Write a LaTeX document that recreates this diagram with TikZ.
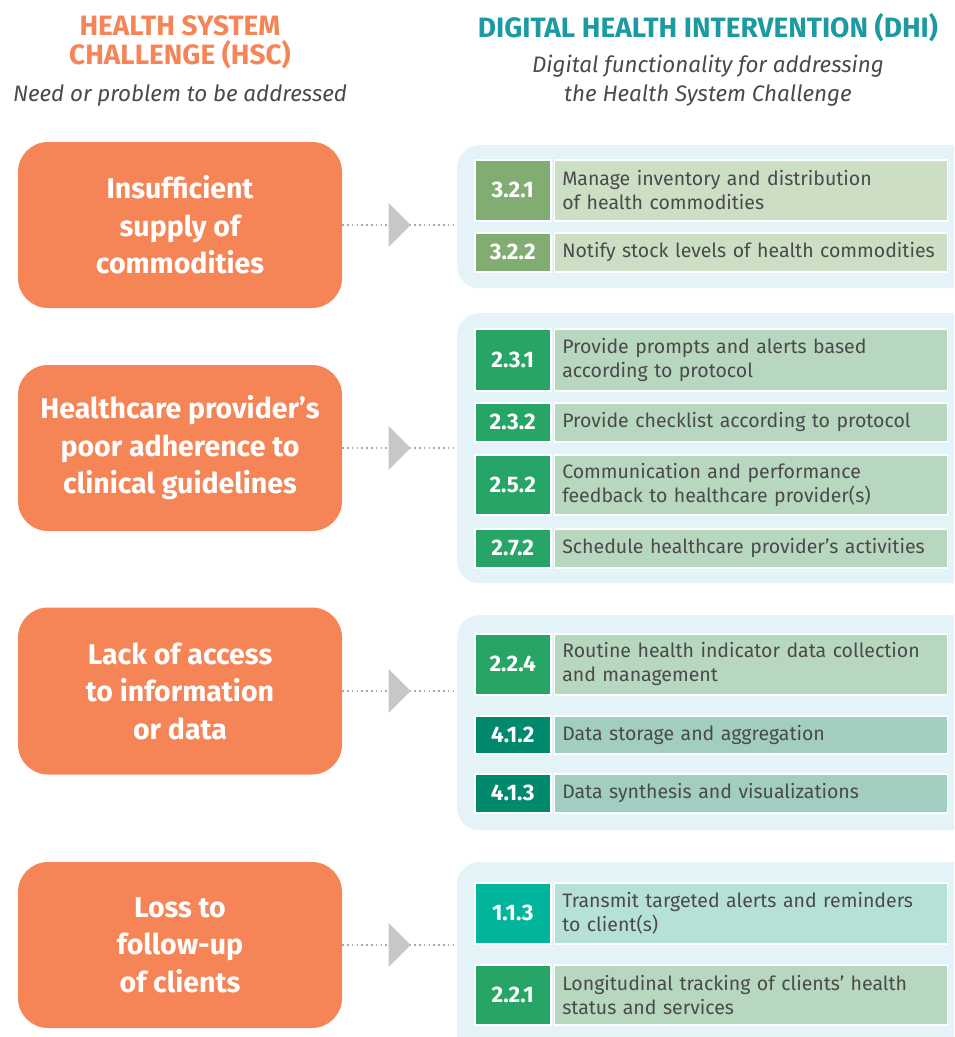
\documentclass[tikz,border=0pt]{standalone}
\usepackage{fontspec}
\setsansfont{Fira Sans}
\usetikzlibrary{positioning,calc}
\definecolor{HscOrange} {HTML}{F58557}
\definecolor{DhiTeal}   {HTML}{1B9BA1}
\definecolor{TextGray}  {HTML}{4A4A4C}
\definecolor{ArrowGray} {HTML}{C6C7C9}
\definecolor{PanelBg}   {HTML}{E3F3F7}
\definecolor{OliveNum}  {HTML}{82AD72}
\definecolor{OliveBg}   {HTML}{CCDFC5}
\definecolor{GreenNum}  {HTML}{27A566}
\definecolor{GreenBg}   {HTML}{B8D7BF}
\definecolor{DeepNum}   {HTML}{00896D}
\definecolor{DeepBg}    {HTML}{A1CEC1}
\definecolor{AquaNum}   {HTML}{00B59B}
\definecolor{AquaBg}    {HTML}{B6E1D9}

\begin{document}
\begin{tikzpicture}[x=1pt,y=-1pt,
  hscbox/.style={fill=HscOrange,rounded corners=30pt,minimum width=324pt,
    minimum height=166pt,align=center,text=white,
    font=\sffamily\bfseries\fontsize{28.5}{37.5}\selectfont},
  panel/.style={fill=PanelBg,rounded corners=22pt,anchor=north west,
    minimum width=520pt},
  numcell/.style={draw=white,line width=1.5pt,anchor=north west,
    minimum width=76pt,text=white,
    font=\sffamily\bfseries\fontsize{22.5}{24}\selectfont},
  txtcell/.style={draw=white,line width=1.5pt,text width=377pt,
    inner xsep=8pt,align=left,text=TextGray,
    font=\sffamily\fontsize{19.5}{24}\selectfont},
  headline/.style={align=center,
    font=\sffamily\bfseries\fontsize{28}{29}\selectfont},
  subhead/.style={align=center,text=TextGray,
    font=\sffamily\itshape\fontsize{22.4}{29}\selectfont},
  dotline/.style={ArrowGray!85!black,line width=1.6pt,
    dash pattern=on 1.6pt off 3.2pt},
  tri/.style={fill=ArrowGray}]
  \clip (0,0) rectangle (954,1037);
  \useasboundingbox (0,0) rectangle (954,1037);

  % column headings
  \node[headline,text=HscOrange] (hschd) at (180,42)
    {HEALTH SYSTEM\\CHALLENGE (HSC)};
  \node[subhead] (hscsub) at (180,96) {Need or problem to be addressed};
  \node[headline,text=DhiTeal] (dhihd) at (708,28)
    {DIGITAL HEALTH INTERVENTION (DHI)};
  \node[subhead] (dhisub) at (708,81)
    {Digital functionality for addressing\\the Health System Challenge};

  % panels behind the DHI rows
  \node[panel,minimum height=143pt] (pan1) at (457,145) {};
  \node[panel,minimum height=270pt] (pan2) at (457,313) {};
  \node[panel,minimum height=215pt] (pan3) at (457,615) {};
  \node[panel,minimum height=200pt] (pan4) at (457,862) {};

  % group 1
  \node[numcell,fill=OliveNum,minimum height=61pt] (n321) at (474,159) {3.2.1};
  \node[txtcell,fill=OliveBg,minimum height=61pt,right=2pt of n321] (t321)
    {Manage inventory and distribution\\of health commodities};
  \node[numcell,fill=OliveNum,minimum height=39pt] (n322) at (474,232) {3.2.2};
  \node[txtcell,fill=OliveBg,minimum height=39pt,right=2pt of n322] (t322)
    {Notify stock levels of health commodities};

  % group 2
  \node[numcell,fill=GreenNum,minimum height=62pt] (n231) at (474,328) {2.3.1};
  \node[txtcell,fill=GreenBg,minimum height=62pt,right=2pt of n231] (t231)
    {Provide prompts and alerts based\\according to protocol};
  \node[numcell,fill=GreenNum,minimum height=39pt] (n232) at (474,402) {2.3.2};
  \node[txtcell,fill=GreenBg,minimum height=39pt,right=2pt of n232] (t232)
    {Provide checklist according to protocol};
  \node[numcell,fill=GreenNum,minimum height=60pt] (n252) at (474,454) {2.5.2};
  \node[txtcell,fill=GreenBg,minimum height=60pt,right=2pt of n252] (t252)
    {Communication and performance\\feedback to healthcare provider(s)};
  \node[numcell,fill=GreenNum,minimum height=39pt] (n272) at (474,528) {2.7.2};
  \node[txtcell,fill=GreenBg,minimum height=39pt,right=2pt of n272] (t272)
    {Schedule healthcare provider’s activities};

  % group 3
  \node[numcell,fill=GreenNum,minimum height=61pt] (n224) at (474,633) {2.2.4};
  \node[txtcell,fill=GreenBg,minimum height=61pt,right=2pt of n224] (t224)
    {Routine health indicator data collection\\and management};
  \node[numcell,fill=DeepNum,minimum height=38pt] (n412) at (474,715) {4.1.2};
  \node[txtcell,fill=DeepBg,minimum height=38pt,right=2pt of n412] (t412)
    {Data storage and aggregation};
  \node[numcell,fill=DeepNum,minimum height=39pt] (n413) at (474,773) {4.1.3};
  \node[txtcell,fill=DeepBg,minimum height=39pt,right=2pt of n413] (t413)
    {Data synthesis and visualizations};

  % group 4
  \node[numcell,fill=AquaNum,minimum height=61pt] (n113) at (474,882) {1.1.3};
  \node[txtcell,fill=AquaBg,minimum height=61pt,right=2pt of n113] (t113)
    {Transmit targeted alerts and reminders\\to client(s)};
  \node[numcell,fill=GreenNum,minimum height=60pt] (n221) at (474,964) {2.2.1};
  \node[txtcell,fill=GreenBg,minimum height=60pt,right=2pt of n221] (t221)
    {Longitudinal tracking of clients’ health\\status and services};

  % health system challenges
  \node[hscbox] (hsc1) at (180,225) {Insufficient\\supply of\\commodities};
  \node[hscbox] (hsc2) at (180,448)
    {Healthcare provider’s\\poor adherence to\\clinical guidelines};
  \node[hscbox,minimum height=167pt] (hsc3) at (180,691)
    {Lack of access\\to information\\or data};
  \node[hscbox] (hsc4) at (180,945) {Loss to\\follow-up\\of clients};

  % dotted links with grey pointers
  \foreach \i in {1,2,3,4}{
    \draw[dotline] (hsc\i.east) -- (hsc\i.east -| pan\i.west);
    \coordinate (mid\i) at ($(hsc\i.east)!0.5!(hsc\i.east -| pan\i.west)$);
    \fill[tri] ($(mid\i)+(-11,-22)$) -- ($(mid\i)+(11,0)$)
      -- ($(mid\i)+(-11,22)$) -- cycle;
  }
\end{tikzpicture}
\end{document}
